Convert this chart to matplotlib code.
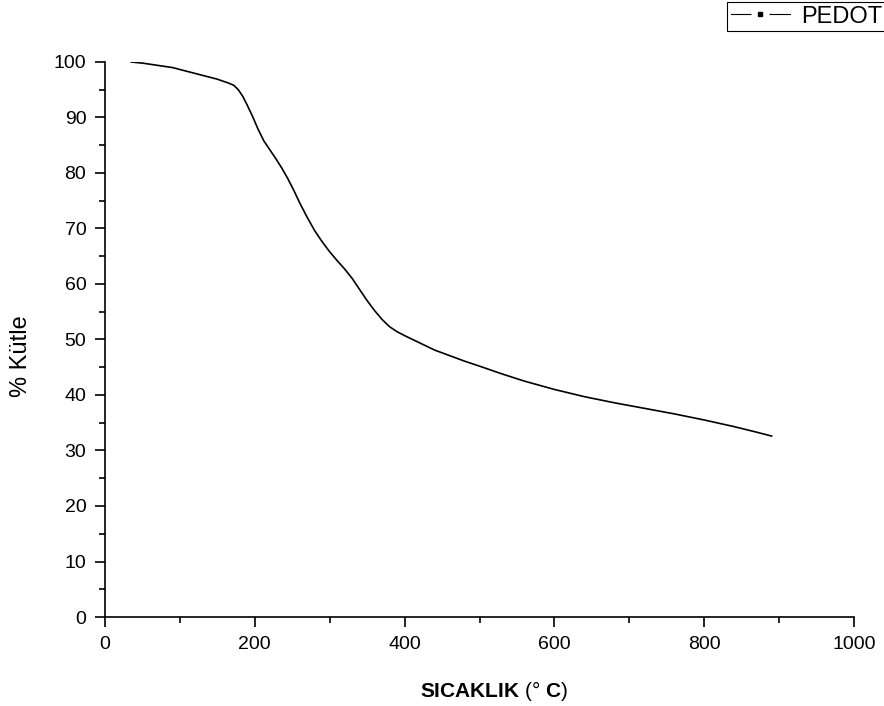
import matplotlib
matplotlib.use("Agg")
import matplotlib.pyplot as plt
from matplotlib.lines import Line2D
from matplotlib.ticker import MultipleLocator

plt.rcParams["font.family"] = ["Liberation Sans", "DejaVu Sans"]
plt.rcParams["mathtext.fontset"] = "custom"
plt.rcParams["mathtext.rm"] = "Liberation Sans"
plt.rcParams["mathtext.bf"] = "Liberation Sans:bold"

# TGA curve of PEDOT: temperature (°C) vs remaining mass (%)
temperature = [35, 50, 70, 90, 110, 130, 150, 165, 172, 178, 184, 190, 197, 204,
               212, 220, 228, 236, 244, 252, 260, 270, 280, 290, 300, 310, 320,
               330, 340, 350, 360, 370, 380, 390, 400, 420, 440, 460, 480, 500,
               530, 560, 600, 640, 680, 720, 760, 800, 840, 870, 890]
mass = [100.0, 99.8, 99.4, 99.0, 98.3, 97.6, 96.9, 96.2, 95.8, 95.0, 93.8, 92.2,
        90.2, 88.0, 85.8, 84.2, 82.6, 80.9, 79.0, 76.9, 74.6, 72.0, 69.6, 67.6,
        65.8, 64.2, 62.7, 61.0, 59.0, 57.0, 55.2, 53.6, 52.3, 51.4, 50.7, 49.4,
        48.1, 47.1, 46.1, 45.2, 43.8, 42.5, 41.0, 39.7, 38.6, 37.6, 36.6, 35.5,
        34.3, 33.3, 32.6]
series_name = "PEDOT"

x_ticks = [0, 200, 400, 600, 800, 1000]
y_ticks = [0, 10, 20, 30, 40, 50, 60, 70, 80, 90, 100]

fig = plt.figure(figsize=(8.84, 7.06), dpi=100)
ax = fig.add_axes([105 / 884, 89 / 706, 749 / 884, 555 / 706])

ax.plot(temperature, mass, color="black", lw=1.2, solid_joinstyle="round")

ax.set_xlim(0, 1000)
ax.set_ylim(0, 100)
ax.set_xticks(x_ticks)
ax.set_yticks(y_ticks)
ax.xaxis.set_minor_locator(MultipleLocator(100))
ax.yaxis.set_minor_locator(MultipleLocator(5))

for side in ("top", "right"):
    ax.spines[side].set_visible(False)
for side in ("left", "bottom"):
    ax.spines[side].set_linewidth(1.2)

ax.tick_params(which="major", direction="out", length=7.5, width=1.2,
               labelsize=14, pad=6)
ax.tick_params(which="minor", direction="out", length=4.5, width=1.2)

ax.set_xlabel(r"$\mathbf{SICAKLIK}$ (° $\mathbf{C}$)", fontsize=15)
ax.xaxis.set_label_coords(0.519, -0.112)
ax.set_ylabel("% Kütle", fontsize=17)
ax.yaxis.set_label_coords(-0.097, 0.47)

# legend sample: solid line broken around a small square marker
h_line = Line2D([], [], color="black", lw=0.8)
h_gap = Line2D([], [], ls="none", marker="s", ms=13, mfc="white", mec="none")
h_mark = Line2D([], [], ls="none", marker="s", ms=3, mfc="black", mec="black")
leg = ax.legend([(h_line, h_gap, h_mark)], [series_name], loc="upper right",
                bbox_to_anchor=(1.0025, 0.997), bbox_transform=fig.transFigure,
                borderaxespad=0, fontsize=17, handlelength=2.5,
                handletextpad=0.5, borderpad=0.15, fancybox=False,
                framealpha=1, edgecolor="black")
leg.get_frame().set_linewidth(0.8)

fig.savefig("out.png", dpi=100)
